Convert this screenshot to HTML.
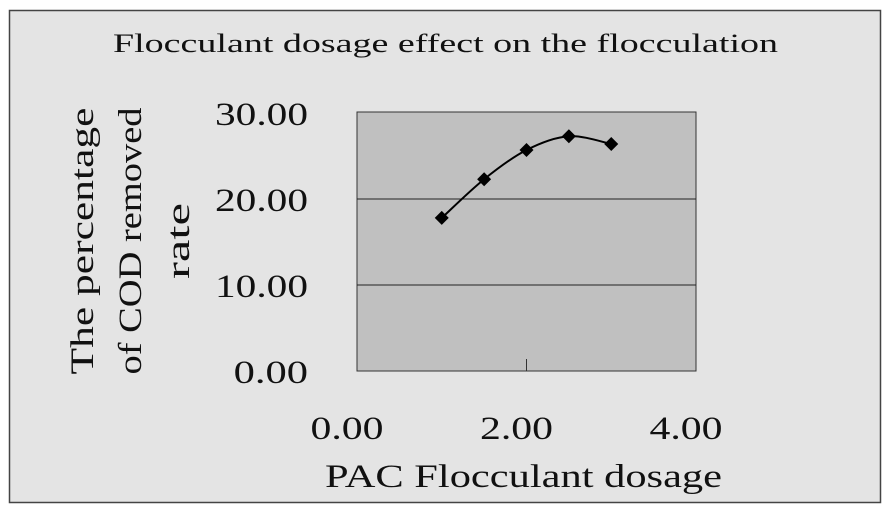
<!DOCTYPE html>
<html><head><meta charset="utf-8"><style>
html,body{margin:0;padding:0;background:#fff;}
svg{display:block;}
text{font-family:"Liberation Serif","Noto Serif CJK SC",serif;fill:#111;}
</style></head><body>
<svg width="889" height="513" viewBox="0 0 889 513">
<rect x="9.5" y="10.5" width="871" height="492" fill="#e4e4e4" stroke="#444" stroke-width="1.5"/>
<text x="113" y="52" font-size="26" textLength="665" lengthAdjust="spacingAndGlyphs">Flocculant dosage effect on the flocculation</text>
<rect x="357" y="112" width="339" height="259" fill="#c0c0c0" stroke="#333" stroke-width="1"/>
<g id="grid"></g>
<g id="yticks"></g>
<g id="xticks"></g>
<path id="curve" fill="none" stroke="#000" stroke-width="2"/>
<g id="pts"></g>
<text x="325" y="487" font-size="33" textLength="397" lengthAdjust="spacingAndGlyphs">PAC Flocculant dosage</text>
<g transform="translate(0,241) rotate(-90)">
<text x="0" y="93" font-size="33" text-anchor="middle" textLength="267" lengthAdjust="spacingAndGlyphs">The percentage</text>
<text x="0" y="141" font-size="33" text-anchor="middle" textLength="267" lengthAdjust="spacingAndGlyphs">of COD removed</text>
<text x="0" y="189" font-size="33" text-anchor="middle" textLength="76" lengthAdjust="spacingAndGlyphs">rate</text>
</g>
</svg>
<script>
const xValues=[1.0,1.5,2.0,2.5,3.0];
const yValues=[17.8,22.3,25.7,27.3,26.4];
const xTicks=[0,2,4];
const xTickLabels=["0.00","2.00","4.00"];
const yTicks=[0,10,20,30];
const yTickLabels=["0.00","10.00","20.00","30.00"];
const NS="http://www.w3.org/2000/svg";
const X0=357,X1=696,Y0=371,Y1=113;
function sx(v){return X0+(v-0)/(4-0)*(X1-X0);}
function sy(v){return Y0-(v-0)/(30-0)*(Y0-Y1);}
function mk(t,a){const e=document.createElementNS(NS,t);for(const k in a)e.setAttribute(k,a[k]);return e;}
const grid=document.getElementById('grid'),yt=document.getElementById('yticks'),xt=document.getElementById('xticks');
yTicks.forEach((v,i)=>{
  if(v>0&&v<30){const l=mk('line',{x1:X0,x2:X1,y1:sy(v),y2:sy(v),stroke:'#222','stroke-width':1});
  
  
  grid.appendChild(l);}
  const lab=yTickLabels[i];
  const t=mk('text',{x:308,y:sy(v)+12,'font-size':33,'text-anchor':'end',textLength:lab.length*18.6,lengthAdjust:'spacingAndGlyphs'});
  t.textContent=lab;
  
  
  yt.appendChild(t);
});
xTicks.forEach((v,i)=>{
  const l=mk('line',{x1:sx(v),x2:sx(v),y1:Y0,y2:Y0-12,stroke:'#333','stroke-width':1});
  
  
  xt.appendChild(l);
  const t=mk('text',{x:sx(v)-10,y:439,'font-size':33,'text-anchor':'middle',textLength:73,lengthAdjust:'spacingAndGlyphs'});
  t.textContent=xTickLabels[i];
  
  
  xt.appendChild(t);
});
const P=xValues.map((x,i)=>[sx(x),sy(yValues[i])]);
let d='M'+P[0][0]+','+P[0][1];
for(let i=0;i<P.length-1;i++){
  const p0=P[Math.max(i-1,0)],p1=P[i],p2=P[i+1],p3=P[Math.min(i+2,P.length-1)];
  const c1=[p1[0]+(p2[0]-p0[0])/6,p1[1]+(p2[1]-p0[1])/6];
  const c2=[p2[0]-(p3[0]-p1[0])/6,p2[1]-(p3[1]-p1[1])/6];
  d+=' C'+c1+' '+c2+' '+p2;
}
document.getElementById('curve').setAttribute('d',d);
const pts=document.getElementById('pts');
P.forEach(p=>{
  const m=mk('path',{d:`M${p[0]},${p[1]-7} L${p[0]+7},${p[1]} L${p[0]},${p[1]+7} L${p[0]-7},${p[1]} Z`,fill:'#000'});
  
  
  pts.appendChild(m);
});
</script>
</body></html>
